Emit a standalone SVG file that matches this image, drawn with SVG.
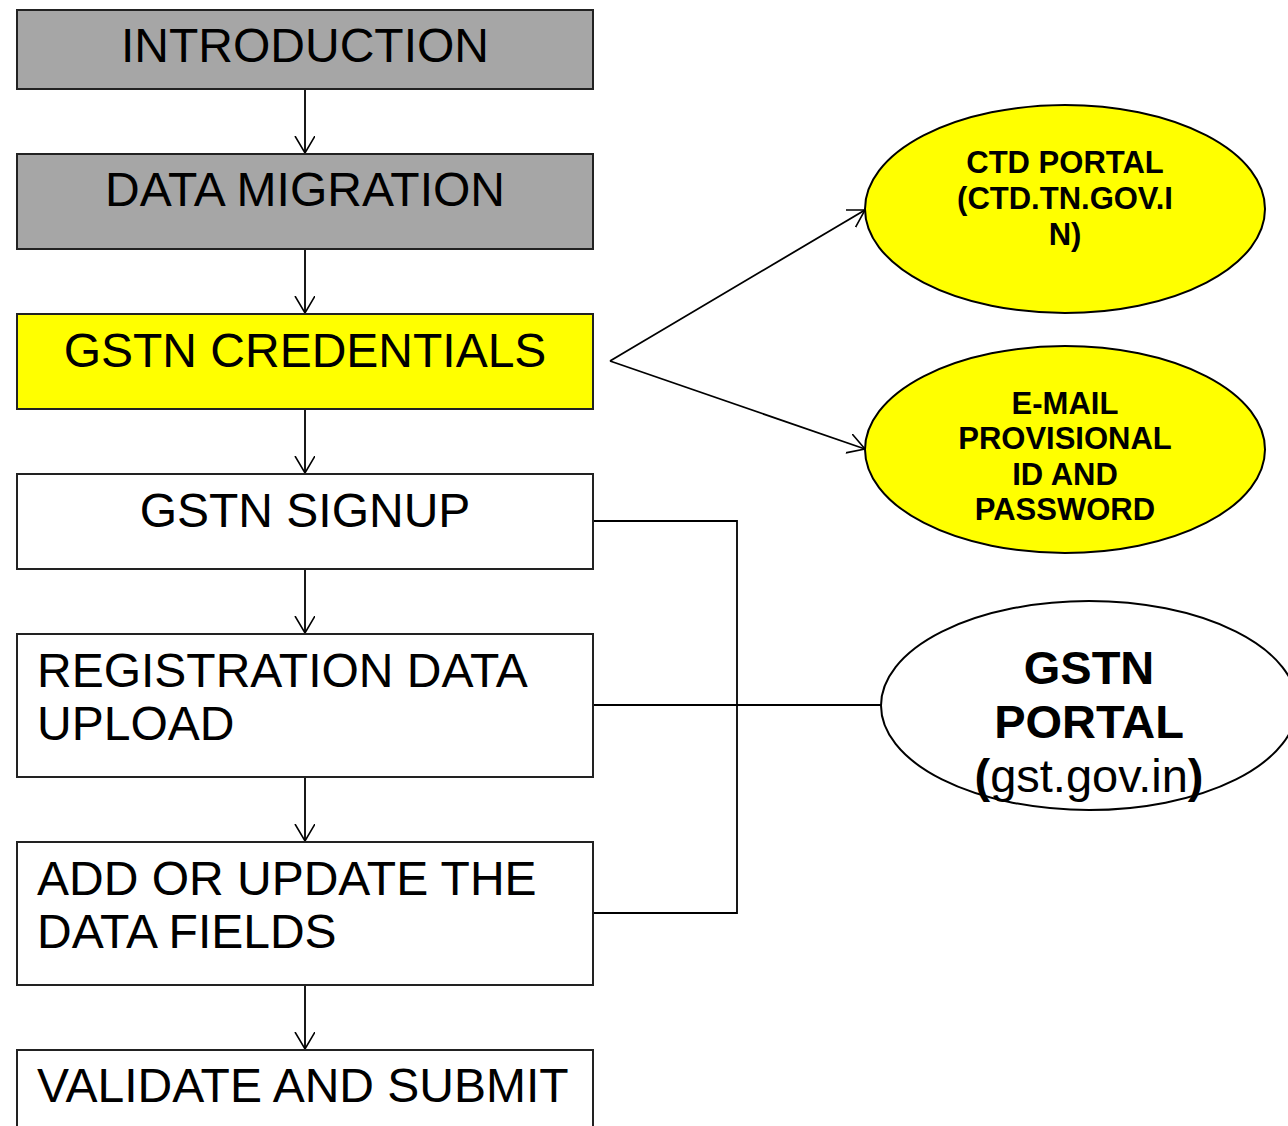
<svg xmlns="http://www.w3.org/2000/svg" width="1288" height="1126" viewBox="0 0 1288 1126">
<defs>
<marker id="arr" markerWidth="20" markerHeight="22" refX="17" refY="10" orient="auto" markerUnits="userSpaceOnUse">
<path d="M0,0 L17,10 L0,20" fill="none" stroke="#000" stroke-width="1.6"/>
</marker>
<style>
.box{stroke:#222;stroke-width:2}
.gray{fill:#a6a6a6}
.yel{fill:#ffff00}
.wht{fill:#fff}
.t{font-family:"Liberation Sans",Arial,sans-serif;font-size:48px;fill:#000}
.c{text-anchor:middle}
.e{stroke:#000;stroke-width:2}
.eb{font-family:"Liberation Sans",Arial,sans-serif;font-size:31px;font-weight:bold;text-anchor:middle;fill:#000}
.gb{font-family:"Liberation Sans",Arial,sans-serif;font-size:47px;font-weight:bold;text-anchor:middle;fill:#000}
.ln{fill:none;stroke:#000;stroke-width:1.8}
</style>
</defs>
<rect width="1288" height="1126" fill="#fff"/>
<g id="connectors">
<line class="ln" x1="305" y1="89" x2="305" y2="153" marker-end="url(#arr)"/>
<line class="ln" x1="305" y1="249" x2="305" y2="313" marker-end="url(#arr)"/>
<line class="ln" x1="305" y1="409" x2="305" y2="473" marker-end="url(#arr)"/>
<line class="ln" x1="305" y1="569" x2="305" y2="633" marker-end="url(#arr)"/>
<line class="ln" x1="305" y1="777" x2="305" y2="841" marker-end="url(#arr)"/>
<line class="ln" x1="305" y1="985" x2="305" y2="1049" marker-end="url(#arr)"/>
<line class="ln" x1="610" y1="361" x2="865" y2="210" marker-end="url(#arr)"/>
<line class="ln" x1="610" y1="361" x2="865" y2="449" marker-end="url(#arr)"/>
<polyline class="ln" points="593,521 737,521 737,913 593,913"/>
<line class="ln" x1="593" y1="705" x2="881" y2="705"/>
</g>
<g id="introduction">
<rect class="box gray" x="17" y="10" width="576" height="79"/>
<text class="t c" x="305" y="62">INTRODUCTION</text>
</g>
<g id="data-migration">
<rect class="box gray" x="17" y="154" width="576" height="95"/>
<text class="t c" x="305" y="206">DATA MIGRATION</text>
</g>
<g id="gstn-credentials">
<rect class="box yel" x="17" y="314" width="576" height="95"/>
<text class="t c" x="305" y="367">GSTN CREDENTIALS</text>
</g>
<g id="gstn-signup">
<rect class="box wht" x="17" y="474" width="576" height="95"/>
<text class="t c" x="305" y="527">GSTN SIGNUP</text>
</g>
<g id="registration-data-upload">
<rect class="box wht" x="17" y="634" width="576" height="143"/>
<text class="t" x="37" y="687">REGISTRATION DATA</text>
<text class="t" x="37" y="740">UPLOAD</text>
</g>
<g id="add-or-update">
<rect class="box wht" x="17" y="842" width="576" height="143"/>
<text class="t" x="37" y="895">ADD OR UPDATE THE</text>
<text class="t" x="37" y="948">DATA FIELDS</text>
</g>
<g id="validate-and-submit">
<rect class="box wht" x="17" y="1050" width="576" height="100"/>
<text class="t" x="37" y="1102">VALIDATE AND SUBMIT</text>
</g>
<g id="ctd-portal">
<ellipse class="e yel" cx="1065" cy="209" rx="200" ry="104"/>
<text class="eb" x="1065" y="173">CTD PORTAL</text>
<text class="eb" x="1065" y="209">(CTD.TN.GOV.I</text>
<text class="eb" x="1065" y="245">N)</text>
</g>
<g id="email-provisional">
<ellipse class="e yel" cx="1065" cy="449.5" rx="200" ry="103.5"/>
<text class="eb" x="1065" y="414">E-MAIL</text>
<text class="eb" x="1065" y="449">PROVISIONAL</text>
<text class="eb" x="1065" y="485">ID AND</text>
<text class="eb" x="1065" y="520">PASSWORD</text>
</g>
<g id="gstn-portal">
<ellipse class="e wht" cx="1089" cy="705.5" rx="208" ry="104.5"/>
<text class="gb" x="1089" y="684">GSTN</text>
<text class="gb" x="1089" y="738">PORTAL</text>
<text class="gb" x="1089" y="792">(<tspan font-weight="normal">gst.gov.in</tspan>)</text>
</g>
</svg>
